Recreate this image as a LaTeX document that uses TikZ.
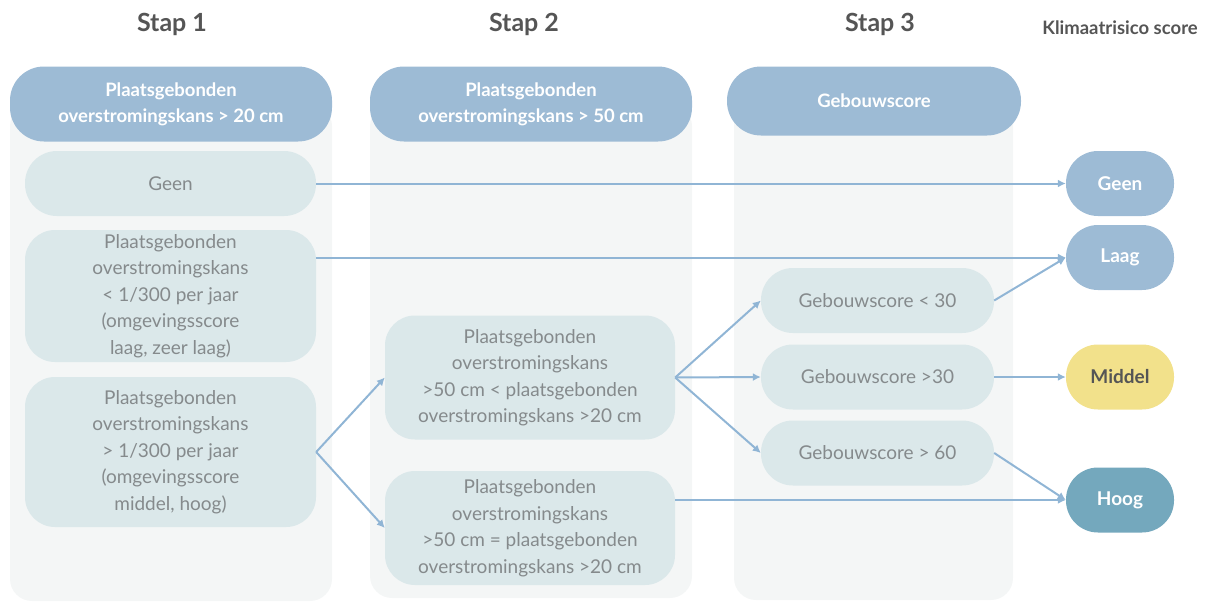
\documentclass[tikz,border=0pt]{standalone}
\usepackage{fontspec}
\setmainfont{Lato}
\usetikzlibrary{arrows.meta}
\definecolor{panelbg}{HTML}{F4F6F6}
\definecolor{headblue}{HTML}{9DBBD5}
\definecolor{boxfill}{HTML}{DBE8EA}
\definecolor{boxtext}{HTML}{858A8C}
\definecolor{arrowblue}{HTML}{90B5D5}
\definecolor{titlegray}{HTML}{555555}
\definecolor{midyellow}{HTML}{F2E18B}
\definecolor{highteal}{HTML}{74A8BD}
\begin{document}
\begin{tikzpicture}[x=1pt,y=-1pt,
  panel/.style={fill=panelbg,rounded corners=22pt},
  header/.style={fill=headblue,rounded corners=34pt,inner sep=0pt,align=center,
    text=white,font=\fontsize{18.5}{26}\selectfont\bfseries},
  optbox/.style={fill=boxfill,inner sep=0pt,align=center,text=boxtext,
    font=\fontsize{19}{26.5}\selectfont},
  result/.style={rounded corners=32pt,inner sep=0pt,minimum width=108pt,minimum height=65pt,
    font=\fontsize{19}{22}\selectfont\bfseries,text=white},
  steptitle/.style={text=titlegray,font=\fontsize{25}{30}\selectfont\bfseries},
  flow/.style={draw=arrowblue,line width=2pt,-{Latex[length=8pt,width=8pt]}}]
\useasboundingbox (0,0) rectangle (1213,603);

% column backgrounds
\fill[panel] (10,104) rectangle (332,601);
\fill[panel] (370,104) rectangle (692,598);
\fill[panel] (734,100) rectangle (1013,600);

% step titles
\node[steptitle] (t1) at (172,24) {Stap 1};
\node[steptitle] (t2) at (524,24) {Stap 2};
\node[steptitle] (t3) at (880,24) {Stap 3};
\node[text=titlegray,font=\fontsize{18.5}{22}\selectfont\bfseries] (t4) at (1120,28) {Klimaatrisico score};

% column headers
\node[header,minimum width=322pt,minimum height=75pt] (h1) at (171,104)
  {Plaatsgebonden\\overstromingskans > 20 cm};
\node[header,minimum width=322pt,minimum height=75pt] (h2) at (531,104)
  {Plaatsgebonden\\overstromingskans > 50 cm};
\node[header,minimum width=294pt,minimum height=69pt] (h3) at (874,101)
  {Gebouwscore};

% step 1 options
\node[optbox,rounded corners=32pt,minimum width=291pt,minimum height=65pt] (s1a) at (170.5,183.5) {Geen};
\node[optbox,rounded corners=30pt,minimum width=291pt,minimum height=132pt] (s1b) at (170.5,296)
  {Plaatsgebonden\\overstromingskans\\< 1/300 per jaar\\(omgevingsscore\\laag, zeer laag)};
\node[optbox,rounded corners=30pt,minimum width=291pt,minimum height=150pt] (s1c) at (170.5,452)
  {Plaatsgebonden\\overstromingskans\\> 1/300 per jaar\\(omgevingsscore\\middel, hoog)};

% step 2 options
\node[optbox,rounded corners=30pt,minimum width=290pt,minimum height=124pt] (s2a) at (530,377.5)
  {Plaatsgebonden\\overstromingskans\\>50 cm < plaatsgebonden\\overstromingskans >20 cm};
\node[optbox,rounded corners=30pt,minimum width=290pt,minimum height=114pt] (s2b) at (530,528)
  {Plaatsgebonden\\overstromingskans\\>50 cm = plaatsgebonden\\overstromingskans >20 cm};

% step 3 options
\node[optbox,rounded corners=32pt,minimum width=233pt,minimum height=65pt] (s3a) at (877.5,300.5) {Gebouwscore < 30};
\node[optbox,rounded corners=32pt,minimum width=233pt,minimum height=65pt] (s3b) at (877.5,377) {Gebouwscore >30};
\node[optbox,rounded corners=32pt,minimum width=233pt,minimum height=65pt] (s3c) at (877.5,453) {Gebouwscore > 60};

% climate risk scores
\node[result,fill=headblue] (rgeen) at (1120,183.5) {Geen};
\node[result,fill=headblue] (rlaag) at (1120,257.5) {Laag};
\node[result,fill=midyellow,text=titlegray] (rmid) at (1120,377) {Middel};
\node[result,fill=highteal] (rhoog) at (1120,500) {Hoog};

% connectors
\draw[flow] (s1a.east) -- (rgeen.west);
\draw[flow] (s1b.east |- rlaag.west) -- (rlaag.west);
\draw[flow] (s1c.east) -- (s2a.west);
\draw[flow] (s1c.east) -- (s2b.west);
\draw[flow] (s2a.east) -- (s3a.west);
\draw[flow] (s2a.east) -- (s3b.west);
\draw[flow] (s2a.east) -- (s3c.west);
\draw[flow] (s3a.east) -- (rlaag.west);
\draw[flow] (s3b.east) -- (rmid.west);
\draw[flow] (s3c.east) -- (rhoog.west);
\draw[flow] (s2b.east |- rhoog.west) -- (rhoog.west);
\end{tikzpicture}
\end{document}
